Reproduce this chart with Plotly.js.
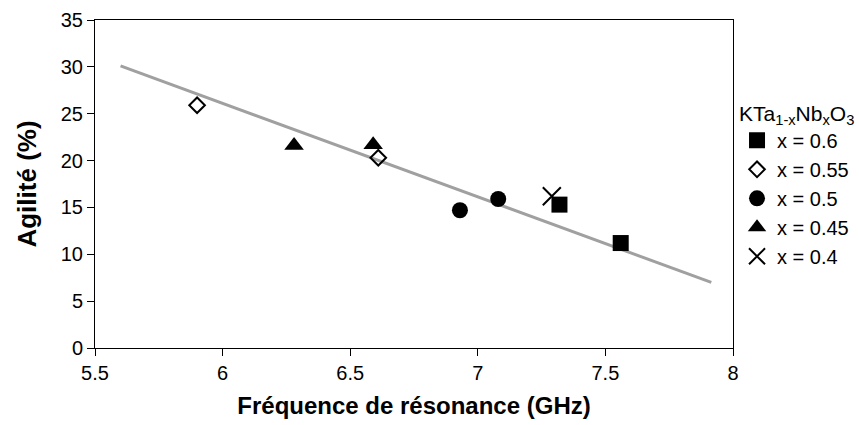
<!DOCTYPE html>
<html>
<head>
<meta charset="utf-8">
<script src="https://cdn.plot.ly/plotly-3.0.1.min.js"></script>
<style>
  html, body { margin: 0; padding: 0; background: #ffffff; }
  #chart { width: 859px; height: 425px; }
</style>
</head>
<body>
<div id="chart"></div>
<script>
// Data
const seriesNames = ["x = 0.6", "x = 0.55", "x = 0.5", "x = 0.45", "x = 0.4"];
const freq06 = [7.32, 7.56];
const agil06 = [15.3, 11.2];
const freq055 = [5.90, 6.61];
const agil055 = [25.9, 20.3];
const freq05 = [6.93, 7.08];
const agil05 = [14.7, 15.9];
const freq045 = [6.28, 6.59];
const agil045 = [21.6, 21.7];
const freq04 = [7.29];
const agil04 = [16.2];
const fitFreq = [5.60, 7.915];
const fitAgil = [30.1, 7.0];
const xTicks = [5.5, 6, 6.5, 7, 7.5, 8];
const yTicks = [0, 5, 10, 15, 20, 25, 30, 35];

const FONT = '"Liberation Sans", Arial, sans-serif';

const traces = [
  { x: fitFreq, y: fitAgil, mode: 'lines', showlegend: false, hoverinfo: 'skip',
    line: { color: '#a0a0a0', width: 3 } },
  { x: freq06, y: agil06, mode: 'markers', name: seriesNames[0],
    marker: { symbol: 'square', size: 16, color: '#000000' } },
  { x: freq055, y: agil055, mode: 'markers', name: seriesNames[1],
    marker: { symbol: 'diamond-open', size: 12, color: '#000000', line: { width: 2, color: '#000000' } } },
  { x: freq05, y: agil05, mode: 'markers', name: seriesNames[2],
    marker: { symbol: 'circle', size: 16, color: '#000000' } },
  { x: freq045, y: agil045, mode: 'markers', name: seriesNames[3],
    marker: { symbol: 'triangle-up', size: 17, color: '#000000' } },
  { x: freq04, y: agil04, mode: 'markers', name: seriesNames[4],
    marker: { symbol: 'x-thin-open', size: 18, color: '#000000', line: { width: 2, color: '#000000' } } }
];

const layout = {
  width: 859, height: 425,
  margin: { l: 95, r: 126, t: 20, b: 77, autoexpand: false },
  paper_bgcolor: '#ffffff', plot_bgcolor: '#ffffff',
  font: { family: FONT, color: '#000000', size: 20 },
  xaxis: {
    range: [5.5, 8], tickvals: xTicks, ticktext: xTicks.map(String),
    showgrid: false, zeroline: false,
    showline: true, linecolor: '#000000', linewidth: 1, mirror: true,
    ticks: 'outside', ticklen: 7, tickcolor: '#000000',
    tickfont: { family: FONT, size: 20 },
    title: { text: '<b>Fréquence de résonance (GHz)</b>', font: { family: FONT, size: 24 }, standoff: 14 }
  },
  yaxis: {
    range: [0, 35], tickvals: yTicks,
    showgrid: false, zeroline: false,
    showline: true, linecolor: '#000000', linewidth: 1, mirror: true,
    ticks: 'outside', ticklen: 7, tickcolor: '#000000',
    tickfont: { family: FONT, size: 20 },
    title: { text: '<b>Agilité (%)</b>', font: { family: FONT, size: 26 }, standoff: 16 }
  },
  legend: {
    xref: 'container', yref: 'container',
    x: 0.858, xanchor: 'left', y: 0.78, yanchor: 'top',
    bgcolor: 'rgba(0,0,0,0)', borderwidth: 0,
    font: { family: FONT, size: 20 },
    title: { text: 'KTa<sub>1-x</sub>Nb<sub>x</sub>O<sub>3</sub>', font: { family: FONT, size: 21 } },
    itemsizing: 'trace'
  },
  showlegend: true
};

Plotly.newPlot('chart', traces, layout, { displayModeBar: false, staticPlot: true });
</script>
</body>
</html>
